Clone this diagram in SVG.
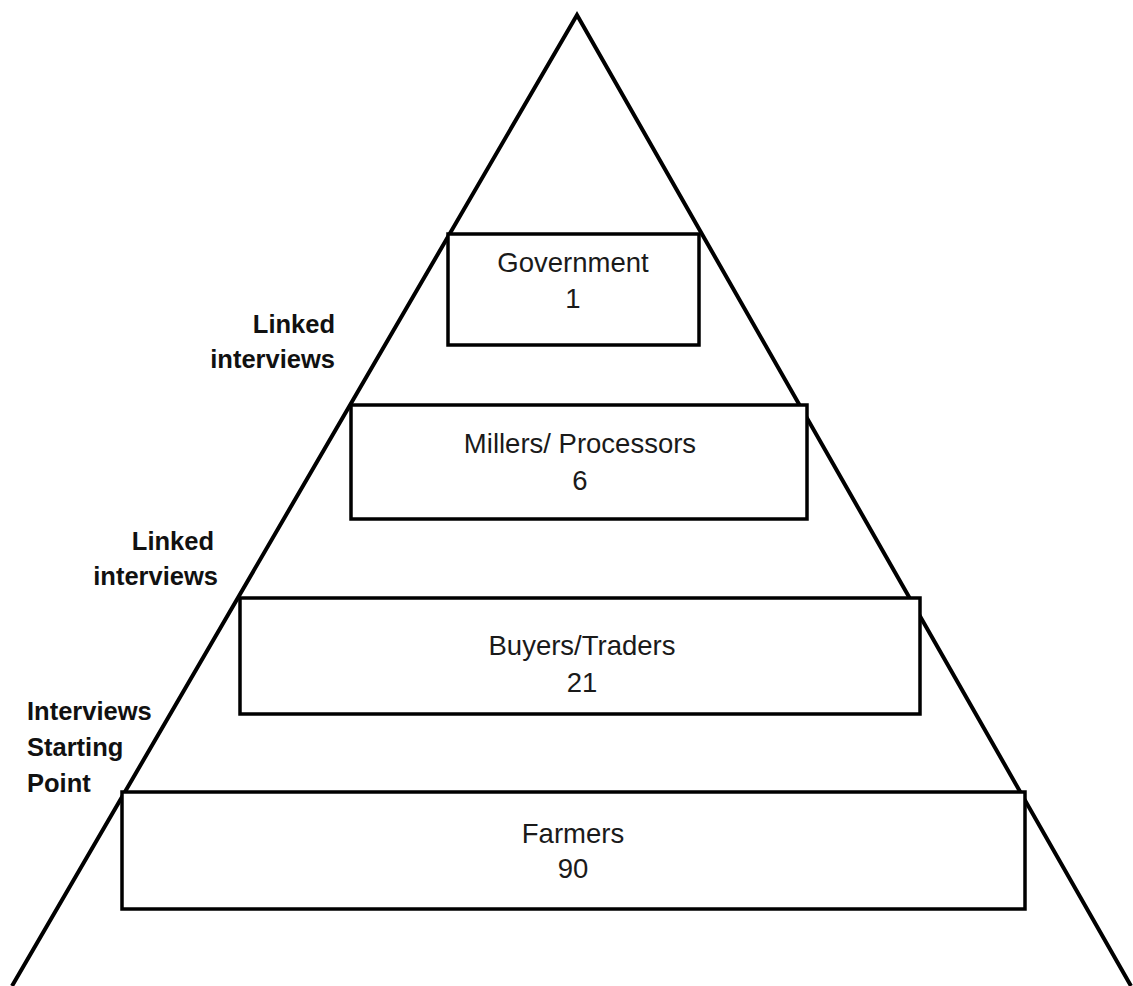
<svg xmlns="http://www.w3.org/2000/svg" width="1133" height="986" viewBox="0 0 1133 986">
<style>
.tri{fill:none;stroke:#000;stroke-width:4;stroke-linejoin:miter}
.box{fill:#fff;stroke:#000;stroke-width:3.5}
.t{font-family:"Liberation Sans",Arial,sans-serif;font-size:27.5px;fill:#1a1a1a;text-anchor:middle}
.lb{font-family:"Liberation Sans",Arial,sans-serif;font-size:25.5px;font-weight:bold;fill:#111}
</style>
<rect width="1133" height="986" fill="#fff"/>
<g id="connectors">
<polyline class="tri" points="12,986 577,15 1131,986"/>
</g>
<g id="government">
<rect class="box" x="448" y="234" width="251" height="111"/>
<text class="t" x="573" y="272">Government</text>
<text class="t" x="573" y="308">1</text>
</g>
<g id="millers">
<rect class="box" x="351" y="405" width="456" height="114"/>
<text class="t" x="580" y="453">Millers/ Processors</text>
<text class="t" x="580" y="490">6</text>
</g>
<g id="buyers">
<rect class="box" x="240" y="598" width="680" height="116"/>
<text class="t" x="582" y="655">Buyers/Traders</text>
<text class="t" x="582" y="692">21</text>
</g>
<g id="farmers">
<rect class="box" x="122" y="792" width="903" height="117"/>
<text class="t" x="573" y="843">Farmers</text>
<text class="t" x="573" y="878">90</text>
</g>
<g id="label-linked-1">
<text class="lb" x="335" y="333" text-anchor="end">Linked</text>
<text class="lb" x="335" y="368" text-anchor="end">interviews</text>
</g>
<g id="label-linked-2">
<text class="lb" x="214" y="550" text-anchor="end">Linked</text>
<text class="lb" x="218" y="585" text-anchor="end">interviews</text>
</g>
<g id="label-start">
<text class="lb" x="27" y="720">Interviews</text>
<text class="lb" x="27" y="756">Starting</text>
<text class="lb" x="27" y="792">Point</text>
</g>
</svg>
